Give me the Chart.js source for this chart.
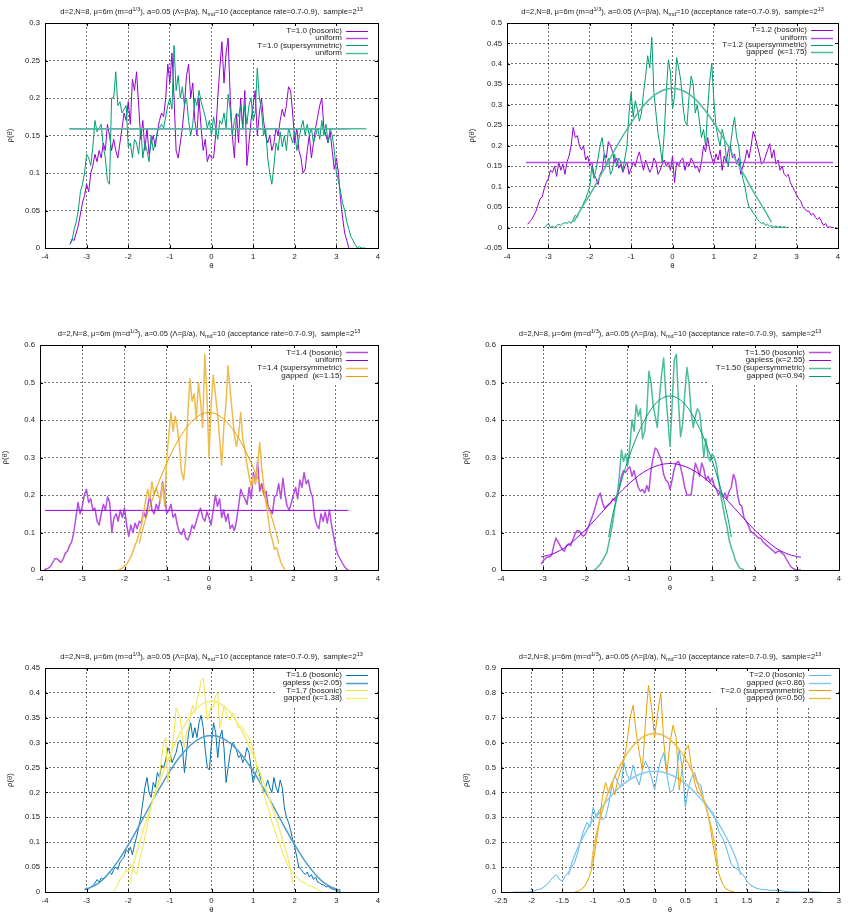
<!DOCTYPE html>
<html><head><meta charset="utf-8">
<script src="https://cdn.jsdelivr.net/npm/chart.js@4.4.1/dist/chart.umd.min.js"></script>
<style>
html,body{margin:0;padding:0;background:#fff;}
#wrap{position:relative;width:848px;height:920px;overflow:hidden;background:#fff;}
canvas{position:absolute;}
</style></head><body><div id="wrap">
<canvas id="c1" width="424" height="300" style="left:0px;top:0px;width:424px;height:300px"></canvas>
<canvas id="c2" width="424" height="300" style="left:424px;top:0px;width:424px;height:300px"></canvas>
<canvas id="c3" width="424" height="300" style="left:0px;top:320px;width:424px;height:300px"></canvas>
<canvas id="c4" width="424" height="300" style="left:424px;top:320px;width:424px;height:300px"></canvas>
<canvas id="c5" width="424" height="280" style="left:0px;top:640px;width:424px;height:280px"></canvas>
<canvas id="c6" width="424" height="280" style="left:424px;top:640px;width:424px;height:280px"></canvas>
</div>
<script>
// ---------------- DATA ----------------
const STEP = 0.05;
// Panel 1 : T=1.0
const p1BosStart = -3.40;
const p1Bos = [0.005,0.012,0.01,0.02,0.03,0.045,0.06,0.07,0.085,0.075,
0.1,0.11,0.125,0.115,0.13,0.12,0.14,0.13,0.165,0.15,
0.13,0.145,0.13,0.12,0.14,0.16,0.18,0.17,0.195,0.165,
0.225,0.21,0.235,0.19,0.145,0.17,0.13,0.16,0.125,0.14,
0.15,0.135,0.155,0.17,0.18,0.175,0.2,0.245,0.22,0.26,
0.2,0.13,0.12,0.14,0.16,0.19,0.23,0.245,0.2,0.22,
0.17,0.15,0.2,0.16,0.13,0.145,0.115,0.125,0.12,0.12,
0.15,0.2,0.24,0.275,0.22,0.26,0.28,0.2,0.15,0.12,
0.18,0.14,0.2,0.16,0.21,0.11,0.14,0.17,0.19,0.21,
0.15,0.18,0.2,0.17,0.15,0.14,0.15,0.13,0.14,0.16,
0.15,0.17,0.185,0.175,0.19,0.215,0.21,0.18,0.14,0.16,
0.13,0.12,0.1,0.105,0.13,0.15,0.12,0.14,0.16,0.175,
0.19,0.2,0.16,0.15,0.14,0.155,0.13,0.105,0.12,0.1,
0.065,0.04,0.02,0.01,0.0];
const p1SusStart = -3.40;
const p1Sus = [0.005,0.01,0.025,0.035,0.05,0.075,0.085,0.1,0.125,0.12,
0.11,0.135,0.17,0.155,0.16,0.165,0.135,0.12,0.09,0.085,
0.2,0.2,0.235,0.19,0.195,0.18,0.185,0.19,0.135,0.14,
0.12,0.145,0.14,0.125,0.16,0.12,0.14,0.13,0.115,0.15,
0.13,0.14,0.155,0.16,0.165,0.16,0.175,0.19,0.2,0.185,
0.27,0.21,0.23,0.2,0.215,0.19,0.2,0.17,0.15,0.165,
0.2,0.19,0.21,0.195,0.185,0.175,0.16,0.17,0.15,0.175,
0.16,0.145,0.17,0.165,0.18,0.16,0.205,0.185,0.15,0.17,
0.18,0.175,0.19,0.16,0.19,0.165,0.19,0.2,0.17,0.18,
0.24,0.2,0.185,0.15,0.16,0.12,0.1,0.085,0.11,0.14,
0.13,0.155,0.135,0.15,0.13,0.16,0.15,0.14,0.155,0.13,
0.145,0.16,0.17,0.15,0.165,0.15,0.16,0.14,0.15,0.16,
0.145,0.17,0.15,0.165,0.14,0.16,0.15,0.13,0.1,0.09,
0.075,0.06,0.05,0.035,0.025,0.015,0.01,0.005,0.0,0.002,
0.0,0.0,0.0];
const p1UniBosTheta = [-3.40, 3.30], p1UniBos = [0.159, 0.159];
const p1UniSusTheta = [-3.42, 3.72], p1UniSus = [0.159, 0.159];

// Panel 2 : T=1.2
const p2BosStart = -3.50;
const p2Bos = [0.008,0.015,0.02,0.03,0.04,0.055,0.07,0.075,0.095,0.11,
0.12,0.14,0.135,0.15,0.125,0.16,0.14,0.155,0.13,0.16,
0.175,0.2,0.245,0.22,0.225,0.2,0.19,0.2,0.165,0.175,
0.15,0.16,0.13,0.12,0.105,0.13,0.14,0.18,0.17,0.21,
0.2,0.185,0.16,0.17,0.145,0.155,0.135,0.15,0.16,0.13,
0.145,0.16,0.15,0.17,0.185,0.16,0.14,0.165,0.15,0.135,
0.145,0.17,0.16,0.13,0.14,0.155,0.165,0.15,0.16,0.14,
0.175,0.11,0.16,0.15,0.165,0.17,0.14,0.16,0.15,0.17,
0.16,0.145,0.15,0.135,0.16,0.2,0.185,0.22,0.19,0.17,
0.155,0.18,0.165,0.19,0.14,0.175,0.16,0.19,0.2,0.17,
0.18,0.155,0.17,0.13,0.15,0.165,0.19,0.17,0.2,0.235,
0.22,0.2,0.18,0.155,0.16,0.175,0.19,0.205,0.17,0.19,
0.155,0.165,0.14,0.15,0.13,0.125,0.13,0.11,0.1,0.09,
0.08,0.07,0.065,0.05,0.045,0.04,0.04,0.03,0.035,0.025,
0.02,0.025,0.015,0.005,0.01,0.0,0.002,0.0,0.0];
const p2SusStart = -3.10;
const p2Sus = [0.0,0.005,0.01,0.0,0.003,0.0,0.005,0.008,0.005,0.01,
0.012,0.01,0.015,0.01,0.02,0.03,0.025,0.04,0.045,0.06,
0.07,0.085,0.1,0.15,0.12,0.14,0.17,0.2,0.22,0.18,
0.15,0.17,0.13,0.14,0.18,0.15,0.17,0.16,0.14,0.17,
0.2,0.28,0.33,0.27,0.31,0.29,0.26,0.28,0.33,0.37,
0.42,0.39,0.465,0.33,0.28,0.23,0.2,0.16,0.23,0.33,
0.41,0.38,0.29,0.32,0.415,0.39,0.36,0.3,0.26,0.25,
0.32,0.37,0.35,0.28,0.3,0.26,0.22,0.24,0.2,0.29,
0.36,0.4,0.31,0.25,0.22,0.2,0.24,0.22,0.17,0.15,
0.2,0.24,0.27,0.22,0.2,0.15,0.12,0.1,0.07,0.05,
0.045,0.035,0.03,0.02,0.015,0.01,0.012,0.005,0.008,0.003,
0.005,0.0,0.004,0.0,0.003,0.0,0.002,0.0,0.0];
const p2UniTheta = [-3.54, 3.88], p2Uni = [0.159, 0.159];
const p2FitTheta = [-2.39,-2.3,-2.2,-2.0,-1.8,-1.6,-1.4,-1.2,-1.0,-0.8,-0.6,-0.4,-0.2,0,0.2,0.4,0.6,0.8,1.0,1.2,1.4,1.6,1.8,2.0,2.2,2.3,2.39];
const p2Fit = [0.013,0.030,0.047,0.080,0.116,0.152,0.189,0.224,0.256,0.285,0.309,0.326,0.337,0.340,0.337,0.326,0.309,0.285,0.256,0.224,0.189,0.152,0.116,0.080,0.047,0.030,0.013];

// Panel 3 : T=1.4
const p3BosStart = -3.90;
const p3Bos = [0.0,0.003,0.005,0.01,0.02,0.03,0.03,0.025,0.02,0.03,
0.045,0.05,0.065,0.075,0.1,0.14,0.18,0.15,0.17,0.2,
0.215,0.18,0.19,0.16,0.165,0.13,0.12,0.15,0.175,0.16,
0.195,0.18,0.1,0.14,0.15,0.13,0.16,0.14,0.165,0.12,
0.09,0.12,0.1,0.125,0.11,0.13,0.125,0.155,0.14,0.17,
0.2,0.16,0.15,0.175,0.16,0.19,0.235,0.2,0.15,0.16,
0.175,0.14,0.15,0.12,0.1,0.095,0.11,0.085,0.08,0.095,
0.12,0.11,0.13,0.15,0.165,0.14,0.13,0.155,0.14,0.12,
0.16,0.2,0.17,0.19,0.14,0.16,0.13,0.15,0.11,0.12,
0.105,0.13,0.17,0.215,0.2,0.19,0.175,0.22,0.19,0.26,
0.23,0.29,0.21,0.23,0.2,0.21,0.17,0.16,0.15,0.195,
0.2,0.23,0.19,0.245,0.2,0.17,0.16,0.18,0.2,0.22,
0.19,0.24,0.22,0.26,0.23,0.24,0.21,0.195,0.14,0.12,
0.11,0.15,0.13,0.155,0.125,0.16,0.12,0.09,0.06,0.04,
0.03,0.02,0.01,0.003,0.0];
const p3SusStart = -2.15;
const p3Sus = [0.0,0.002,0.005,0.01,0.015,0.025,0.035,0.05,0.065,0.08,
0.1,0.12,0.15,0.185,0.215,0.19,0.235,0.2,0.22,0.2,
0.185,0.23,0.17,0.3,0.36,0.42,0.37,0.41,0.38,0.33,
0.26,0.24,0.3,0.42,0.51,0.45,0.47,0.4,0.5,0.45,
0.38,0.575,0.47,0.3,0.44,0.52,0.47,0.42,0.35,0.28,
0.38,0.44,0.545,0.48,0.42,0.36,0.33,0.36,0.42,0.35,
0.32,0.28,0.25,0.22,0.25,0.23,0.28,0.34,0.27,0.22,
0.18,0.14,0.1,0.08,0.055,0.06,0.04,0.02,0.01,0.0];
const p3UniTheta = [-3.88, 3.30], p3Uni = [0.159, 0.159];
const p3FitTheta = [-1.65,-1.6,-1.5,-1.4,-1.2,-1.0,-0.8,-0.6,-0.4,-0.2,0,0.2,0.4,0.6,0.8,1.0,1.2,1.4,1.5,1.6,1.65];
const p3Fit = [0.071,0.095,0.135,0.169,0.231,0.285,0.332,0.369,0.397,0.414,0.420,0.414,0.397,0.369,0.332,0.285,0.231,0.169,0.135,0.095,0.071];

// Panel 4 : T=1.50
const p4BosStart = -3.05;
const p4Bos = [0.015,0.025,0.03,0.035,0.035,0.04,0.065,0.085,0.075,0.065,
0.055,0.05,0.065,0.07,0.065,0.08,0.095,0.105,0.105,0.095,
0.09,0.095,0.11,0.125,0.14,0.155,0.175,0.195,0.205,0.18,
0.165,0.17,0.175,0.18,0.19,0.185,0.2,0.22,0.25,0.265,
0.26,0.27,0.275,0.25,0.265,0.24,0.22,0.21,0.215,0.205,
0.225,0.21,0.265,0.3,0.325,0.32,0.305,0.29,0.255,0.24,
0.235,0.215,0.24,0.27,0.285,0.29,0.275,0.25,0.22,0.2,
0.2,0.2,0.245,0.285,0.27,0.25,0.285,0.27,0.24,0.25,
0.235,0.245,0.225,0.215,0.2,0.21,0.195,0.205,0.19,0.21,
0.22,0.255,0.24,0.2,0.175,0.17,0.14,0.13,0.12,0.105,
0.1,0.095,0.09,0.085,0.085,0.075,0.07,0.065,0.06,0.055,
0.05,0.045,0.05,0.05,0.045,0.04,0.03,0.02,0.01,0.005,
0.002,0.0,0.0,0.0];
const p4SusStart = -1.80;
const p4Sus = [0.0,0.003,0.01,0.015,0.025,0.035,0.045,0.07,0.1,0.13,
0.17,0.2,0.25,0.32,0.29,0.31,0.28,0.33,0.4,0.37,
0.44,0.41,0.43,0.35,0.37,0.42,0.53,0.5,0.44,0.41,
0.38,0.46,0.52,0.565,0.47,0.4,0.33,0.44,0.56,0.575,
0.45,0.355,0.39,0.47,0.54,0.5,0.42,0.38,0.41,0.43,
0.42,0.37,0.3,0.35,0.3,0.29,0.31,0.3,0.28,0.24,
0.2,0.17,0.14,0.115,0.08,0.06,0.045,0.025,0.015,0.005,
0.003,0.0];
const p4GaplessTheta = [-3.05,-2.75,-2.5,-2.25,-2.0,-1.75,-1.5,-1.25,-1.0,-0.75,-0.5,-0.25,0,0.25,0.5,0.75,1.0,1.25,1.5,1.75,2.0,2.25,2.5,2.75,3.0,3.1];
const p4Gapless = [0.035,0.044,0.059,0.081,0.107,0.137,0.168,0.199,0.227,0.251,0.269,0.280,0.284,0.280,0.269,0.251,0.227,0.199,0.168,0.137,0.107,0.081,0.059,0.044,0.036,0.034];
const p4GappedTheta = [-1.45,-1.4,-1.3,-1.2,-1.1,-1.0,-0.8,-0.6,-0.4,-0.2,0,0.2,0.4,0.6,0.8,1.0,1.1,1.2,1.3,1.4,1.45];
const p4Gapped = [0.088,0.122,0.174,0.217,0.256,0.291,0.352,0.400,0.436,0.457,0.464,0.457,0.436,0.400,0.352,0.291,0.256,0.217,0.174,0.122,0.088];

// Panel 5 : T=1.6 / T=1.7 (bosonic)
const p5T16Start = -3.05;
const p5T16 = [0.005,0.008,0.006,0.01,0.012,0.018,0.025,0.02,0.028,0.025,
0.03,0.035,0.04,0.035,0.045,0.05,0.045,0.06,0.065,0.07,
0.085,0.08,0.09,0.075,0.095,0.11,0.13,0.15,0.18,0.21,
0.23,0.2,0.19,0.22,0.21,0.24,0.23,0.255,0.25,0.265,
0.29,0.28,0.26,0.27,0.28,0.3,0.305,0.29,0.24,0.28,
0.32,0.34,0.31,0.33,0.31,0.34,0.355,0.33,0.285,0.25,
0.245,0.3,0.34,0.32,0.27,0.31,0.325,0.29,0.22,0.25,
0.28,0.3,0.295,0.285,0.27,0.275,0.26,0.27,0.29,0.28,
0.25,0.22,0.235,0.25,0.24,0.215,0.2,0.21,0.225,0.21,
0.2,0.23,0.21,0.2,0.225,0.21,0.17,0.15,0.14,0.125,
0.105,0.09,0.07,0.05,0.045,0.04,0.035,0.04,0.03,0.035,
0.025,0.03,0.02,0.018,0.015,0.014,0.01,0.012,0.008,0.006,
0.005,0.003,0.002,0.001];
const p5T17Start = -2.35;
const p5T17 = [0.0,0.008,0.015,0.025,0.03,0.035,0.045,0.04,0.055,0.05,
0.04,0.035,0.055,0.075,0.09,0.11,0.13,0.155,0.17,0.19,
0.2,0.215,0.23,0.27,0.3,0.31,0.22,0.26,0.285,0.32,
0.37,0.36,0.35,0.31,0.29,0.32,0.33,0.36,0.375,0.36,
0.385,0.4,0.425,0.43,0.39,0.345,0.36,0.375,0.37,0.395,
0.4,0.33,0.35,0.375,0.36,0.35,0.345,0.36,0.355,0.34,
0.33,0.335,0.33,0.32,0.315,0.31,0.3,0.285,0.27,0.24,
0.23,0.215,0.2,0.185,0.17,0.16,0.14,0.13,0.115,0.105,
0.095,0.08,0.07,0.06,0.05,0.045,0.038,0.035,0.03,0.025,
0.022,0.02,0.018,0.015,0.012,0.012,0.01,0.007,0.005,0.002,
0.0];
const p5GaplessTheta = [-3.05,-2.75,-2.5,-2.25,-2.0,-1.75,-1.5,-1.25,-1.0,-0.75,-0.5,-0.25,0,0.25,0.5,0.75,1.0,1.25,1.5,1.75,2.0,2.25,2.5,2.75,3.0,3.1];
const p5Gapless = [0.0045,0.0156,0.0348,0.0616,0.0945,0.1315,0.1701,0.2081,0.2430,0.2728,0.2954,0.3096,0.3144,0.3096,0.2954,0.2728,0.2430,0.2081,0.1701,0.1315,0.0945,0.0616,0.0348,0.0156,0.0054,0.0040];
const p5GappedTheta = [-1.95,-1.9,-1.8,-1.7,-1.6,-1.4,-1.2,-1.0,-0.8,-0.6,-0.4,-0.2,0,0.2,0.4,0.6,0.8,1.0,1.2,1.4,1.6,1.7,1.8,1.9,1.95];
const p5Gapped = [0.018,0.045,0.079,0.107,0.135,0.185,0.232,0.275,0.312,0.342,0.365,0.379,0.383,0.379,0.365,0.342,0.312,0.275,0.232,0.185,0.135,0.107,0.079,0.045,0.018];

// Panel 6 : T=2.0
const p6BosStart = -2.30;
const p6Bos = [0.0,0.0,0.0,0.0,0.0,0.0,0.002,0.005,0.01,0.012,
0.02,0.03,0.045,0.06,0.07,0.05,0.045,0.065,0.08,0.1,
0.12,0.16,0.21,0.25,0.28,0.26,0.34,0.3,0.32,0.29,
0.3,0.35,0.42,0.47,0.44,0.42,0.52,0.47,0.45,0.51,
0.46,0.43,0.49,0.525,0.5,0.46,0.41,0.48,0.53,0.56,
0.47,0.4,0.41,0.46,0.57,0.5,0.34,0.42,0.46,0.48,
0.44,0.43,0.37,0.35,0.33,0.32,0.28,0.24,0.22,0.19,
0.15,0.11,0.1,0.09,0.08,0.065,0.045,0.03,0.022,0.016,
0.012,0.01,0.01,0.008,0.006,0.008,0.005,0.006,0.003,0.002,
0.0,0.001,0.0,0.0,0.0,0.0,0.0,0.0,0.0,0.0,
0.0];
const p6SusStart = -1.30;
const p6Sus = [0.0,0.003,0.01,0.02,0.04,0.07,0.12,0.2,0.28,0.38,
0.44,0.4,0.44,0.39,0.45,0.49,0.53,0.6,0.7,0.75,
0.64,0.56,0.49,0.68,0.83,0.74,0.62,0.72,0.8,0.6,
0.48,0.6,0.67,0.62,0.41,0.5,0.57,0.59,0.5,0.44,
0.4,0.39,0.37,0.33,0.27,0.19,0.12,0.07,0.035,0.015,
0.008,0.003,0.0];
const p6BosFitTheta = [-1.4,-1.35,-1.3,-1.2,-1.1,-1.0,-0.8,-0.6,-0.4,-0.2,0,0.2,0.4,0.6,0.8,1.0,1.1,1.2,1.3,1.35,1.4];
const p6BosFit = [0.069,0.115,0.149,0.204,0.250,0.291,0.360,0.414,0.453,0.477,0.485,0.477,0.453,0.414,0.360,0.291,0.250,0.204,0.149,0.115,0.069];
const p6SusFitTheta = [-1.03,-1.0,-0.95,-0.9,-0.8,-0.7,-0.6,-0.5,-0.4,-0.3,-0.2,-0.1,0,0.1,0.2,0.3,0.4,0.5,0.6,0.7,0.8,0.9,0.95,1.0,1.03];
const p6SusFit = [0.100,0.159,0.229,0.283,0.368,0.435,0.491,0.536,0.573,0.601,0.621,0.633,0.637,0.633,0.621,0.601,0.573,0.536,0.491,0.435,0.368,0.283,0.229,0.159,0.100];

// axis ranges [min,max,step]
const ranges = {
  p1: {x:[-4,4,1], y:[0,0.3,0.05]},
  p2: {x:[-4,4,1], y:[-0.05,0.5,0.05]},
  p3: {x:[-4,4,1], y:[0,0.6,0.1]},
  p4: {x:[-4,4,1], y:[0,0.6,0.1]},
  p5: {x:[-4,4,1], y:[0,0.45,0.05]},
  p6: {x:[-2.5,3,0.5], y:[0,0.9,0.1]}
};
const titleParts = [
  {t:'d=2,N=8, \u03bc=6m (m=d'},{t:'1/3',k:'sup'},{t:'), a=0.05 (\u039b=\u03b2/a), N'},{t:'md',k:'sub'},
  {t:'=10 (acceptance rate=0.7-0.9),  sample=2'},{t:'13',k:'sup'}
];

// ---------------- STYLE / HELPERS ----------------
const FONT = "'Liberation Sans', Arial, Helvetica, sans-serif";
const FS_TITLE = 7.6, FS_TICK = 7.7, FS_KEY = 8;
const TEXT = '#1a1a1a';
const GRID = 'rgba(0,0,0,0.55)';
const COL = {purple:'#9400d3', green:'#009e73', orange:'#e69f00', blue:'#0072b2', yellow:'#f0e442', sky:'#56b4e9'};

function tint(hex, f){
  const n = parseInt(hex.slice(1),16);
  const c = [(n>>16)&255,(n>>8)&255,n&255].map(v=>Math.round(v+(255-v)*f));
  return 'rgb('+c.join(',')+')';
}
function gridPts(start, vals){ return vals.map((v,i)=>({x:+(start+i*STEP).toFixed(3), y:v})); }
function xyPts(th, vals){ return vals.map((v,i)=>({x:th[i], y:v})); }
function lineColor(s){ return s.style==='light' ? tint(s.color,0.3) : s.color; }
function lineWidth(s){ return s.style==='light' ? 1.5 : 1; }
function fmt(v){ return String(Math.round(v*1000)/1000); }

function drawRich(ctx, parts, cx, cy){
  const small = FS_TITLE*0.72;
  let total = 0; const ws = [];
  parts.forEach(p=>{
    ctx.font = (p.k ? small : FS_TITLE)+'px '+FONT;
    const w = ctx.measureText(p.t).width; ws.push(w); total += w;
  });
  let x = cx - total/2;
  ctx.textAlign = 'left'; ctx.textBaseline = 'middle';
  parts.forEach((p,i)=>{
    ctx.font = (p.k ? small : FS_TITLE)+'px '+FONT;
    let y = cy;
    if (p.k==='sup') y = cy - FS_TITLE*0.38;
    if (p.k==='sub') y = cy + FS_TITLE*0.3;
    ctx.fillText(p.t, x, y);
    x += ws[i];
  });
}

function decor(P){
  return {
    id:'decor',
    beforeDatasetsDraw(chart){
      const ctx = chart.ctx, a = chart.chartArea;
      ctx.save();
      ctx.font = FS_KEY+'px '+FONT;
      const maxW = Math.max(...P.series.map(s=>ctx.measureText(s.label).width));
      const textRight = a.right - P.lgEnd - 26;
      const boxL = textRight - maxW - 7;
      ctx.fillStyle = '#fff';
      ctx.fillRect(boxL, a.top+1, a.right-boxL-1, P.lgRow*4 + 6);
      ctx.restore();
    },
    afterDatasetsDraw(chart){
      const ctx = chart.ctx, a = chart.chartArea;
      ctx.save();
      ctx.strokeStyle = '#000'; ctx.lineWidth = 1;
      const xs = chart.scales.x, ys = chart.scales.y;
      ctx.beginPath();
      xs.ticks.forEach(t=>{
        const px = Math.round(xs.getPixelForValue(t.value))+0.5;
        ctx.moveTo(px, a.bottom); ctx.lineTo(px, a.bottom-3);
        ctx.moveTo(px, a.top); ctx.lineTo(px, a.top+3);
      });
      ys.ticks.forEach(t=>{
        const py = Math.round(ys.getPixelForValue(t.value))+0.5;
        ctx.moveTo(a.left, py); ctx.lineTo(a.left+3, py);
        ctx.moveTo(a.right, py); ctx.lineTo(a.right-3, py);
      });
      ctx.stroke();
      ctx.strokeRect(Math.round(a.left)+0.5, Math.round(a.top)+0.5, Math.round(a.right-a.left), Math.round(a.bottom-a.top));
      ctx.restore();
    },
    afterDraw(chart){
      const ctx = chart.ctx, a = chart.chartArea;
      ctx.save();
      ctx.fillStyle = TEXT;
      drawRich(ctx, titleParts, (a.left+a.right)/2, a.top-11);
      ctx.font = FS_TICK+'px '+FONT;
      ctx.textAlign = 'center'; ctx.textBaseline = 'middle';
      ctx.fillText('\u03b8', (a.left+a.right)/2, a.bottom+18);
      ctx.save();
      ctx.translate(a.left-35, (a.top+a.bottom)/2);
      ctx.rotate(-Math.PI/2);
      ctx.fillText('\u03c1(\u03b8)', 0, 0);
      ctx.restore();
      // legend
      ctx.font = FS_KEY+'px '+FONT;
      const textRight = a.right - P.lgEnd - 26;
      P.series.forEach((s,i)=>{
        const y = a.top + P.lgTop + i*P.lgRow;
        ctx.fillStyle = TEXT; ctx.textAlign = 'right';
        ctx.fillText(s.label, textRight, y);
        ctx.beginPath();
        ctx.strokeStyle = lineColor(s); ctx.lineWidth = lineWidth(s);
        ctx.moveTo(a.right - P.lgEnd - 22, Math.round(y)+0.5);
        ctx.lineTo(a.right - P.lgEnd, Math.round(y)+0.5);
        ctx.stroke();
      });
      ctx.restore();
    }
  };
}

function panel(id, P){
  const cv = document.getElementById(id);
  const [L,T,R,B] = P.plot;
  const W = 424, H = cv.height;
  const datasets = P.series.map((s,i)=>({
    label: s.label, data: s.points,
    borderColor: lineColor(s), borderWidth: lineWidth(s),
    pointRadius: 0, fill: false, tension: 0,
    cubicInterpolationMode: s.smooth ? 'monotone' : 'default',
    borderJoinStyle: 'round', order: -i
  }));
  const tickFont = {family: FONT, size: FS_TICK};
  new Chart(cv, {
    type: 'line',
    data: {datasets},
    options: {
      responsive: false, animation: false, devicePixelRatio: 1,
      layout: {padding: {left: 0, top: T-P.y0, right: P.x0+W-R, bottom: 0}},
      plugins: {legend: {display: false}, tooltip: {enabled: false}, title: {display: false}},
      scales: {
        x: {type: 'linear', min: P.r.x[0], max: P.r.x[1],
            afterFit: (s)=>{ s.height = H-(B-P.y0); },
            ticks: {stepSize: P.r.x[2], autoSkip: false, maxRotation: 0, padding: 4, color: TEXT, font: tickFont, callback: fmt},
            grid: {color: GRID, lineWidth: 1, drawTicks: false},
            border: {display: false, dash: [2,2]}},
        y: {type: 'linear', min: P.r.y[0], max: P.r.y[1],
            afterFit: (s)=>{ s.width = L-P.x0; },
            ticks: {stepSize: P.r.y[2], autoSkip: false, padding: 5, color: TEXT, font: tickFont, callback: fmt},
            grid: {color: GRID, lineWidth: 1, drawTicks: false},
            border: {display: false, dash: [2,2]}}
      }
    },
    plugins: [decor(P)]
  });
}

// ---------------- PANELS ----------------
panel('c1', {x0:0, y0:0, plot:[45,23,378,248], r:ranges.p1, lgEnd:10, lgTop:7.7, lgRow:7.3, series:[
  {label:'T=1.0 (bosonic)', color:COL.purple, style:'dark', points:gridPts(p1BosStart,p1Bos)},
  {label:'uniform', color:COL.purple, style:'light', points:xyPts(p1UniBosTheta,p1UniBos)},
  {label:'T=1.0 (supersymmetric)', color:COL.green, style:'dark', points:gridPts(p1SusStart,p1Sus)},
  {label:'uniform', color:COL.green, style:'light', points:xyPts(p1UniSusTheta,p1UniSus)}
]});
panel('c2', {x0:424, y0:0, plot:[507,23,838,248], r:ranges.p2, lgEnd:5, lgTop:7.2, lgRow:7.3, series:[
  {label:'T=1.2 (bosonic)', color:COL.purple, style:'dark', points:gridPts(p2BosStart,p2Bos)},
  {label:'uniform', color:COL.purple, style:'light', points:xyPts(p2UniTheta,p2Uni)},
  {label:'T=1.2 (supersymmetric)', color:COL.green, style:'dark', points:gridPts(p2SusStart,p2Sus)},
  {label:'gapped  (\u03ba=1.75)', color:COL.green, style:'light', smooth:true, points:xyPts(p2FitTheta,p2Fit)}
]});
panel('c3', {x0:0, y0:320, plot:[40,345,378,570], r:ranges.p3, lgEnd:10, lgTop:7.3, lgRow:7.8, series:[
  {label:'T=1.4 (bosonic)', color:COL.purple, style:'light', points:gridPts(p3BosStart,p3Bos)},
  {label:'uniform', color:COL.purple, style:'dark', points:xyPts(p3UniTheta,p3Uni)},
  {label:'T=1.4 (supersymmetric)', color:COL.orange, style:'light', points:gridPts(p3SusStart,p3Sus)},
  {label:'gapped  (\u03ba=1.15)', color:COL.orange, style:'dark', smooth:true, points:xyPts(p3FitTheta,p3Fit)}
]});
panel('c4', {x0:424, y0:320, plot:[501,345,839,570], r:ranges.p4, lgEnd:8, lgTop:7.3, lgRow:7.8, series:[
  {label:'T=1.50 (bosonic)', color:COL.purple, style:'light', points:gridPts(p4BosStart,p4Bos)},
  {label:'gapless (\u03ba=2.55)', color:COL.purple, style:'dark', smooth:true, points:xyPts(p4GaplessTheta,p4Gapless)},
  {label:'T=1.50 (supersymmetric)', color:COL.green, style:'light', points:gridPts(p4SusStart,p4Sus)},
  {label:'gapped (\u03ba=0.94)', color:COL.green, style:'dark', smooth:true, points:xyPts(p4GappedTheta,p4Gapped)}
]});
panel('c5', {x0:0, y0:640, plot:[45,668,378,892], r:ranges.p5, lgEnd:10, lgTop:6.8, lgRow:7.8, series:[
  {label:'T=1.6 (bosonic)', color:COL.blue, style:'dark', points:gridPts(p5T16Start,p5T16)},
  {label:'gapless (\u03ba=2.05)', color:COL.blue, style:'light', smooth:true, points:xyPts(p5GaplessTheta,p5Gapless)},
  {label:'T=1.7 (bosonic)', color:COL.yellow, style:'dark', points:gridPts(p5T17Start,p5T17)},
  {label:'gapped (\u03ba=1.38)', color:COL.yellow, style:'light', smooth:true, points:xyPts(p5GappedTheta,p5Gapped)}
]});
panel('c6', {x0:424, y0:640, plot:[501,668,839,892], r:ranges.p6, lgEnd:8, lgTop:6.8, lgRow:7.8, series:[
  {label:'T=2.0 (bosonic)', color:COL.sky, style:'dark', points:gridPts(p6BosStart,p6Bos)},
  {label:'gapped (\u03ba=0.86)', color:COL.sky, style:'light', smooth:true, points:xyPts(p6BosFitTheta,p6BosFit)},
  {label:'T=2.0 (supersymmetric)', color:COL.orange, style:'dark', points:gridPts(p6SusStart,p6Sus)},
  {label:'gapped (\u03ba=0.50)', color:COL.orange, style:'light', smooth:true, points:xyPts(p6SusFitTheta,p6SusFit)}
]});
</script></body></html>
